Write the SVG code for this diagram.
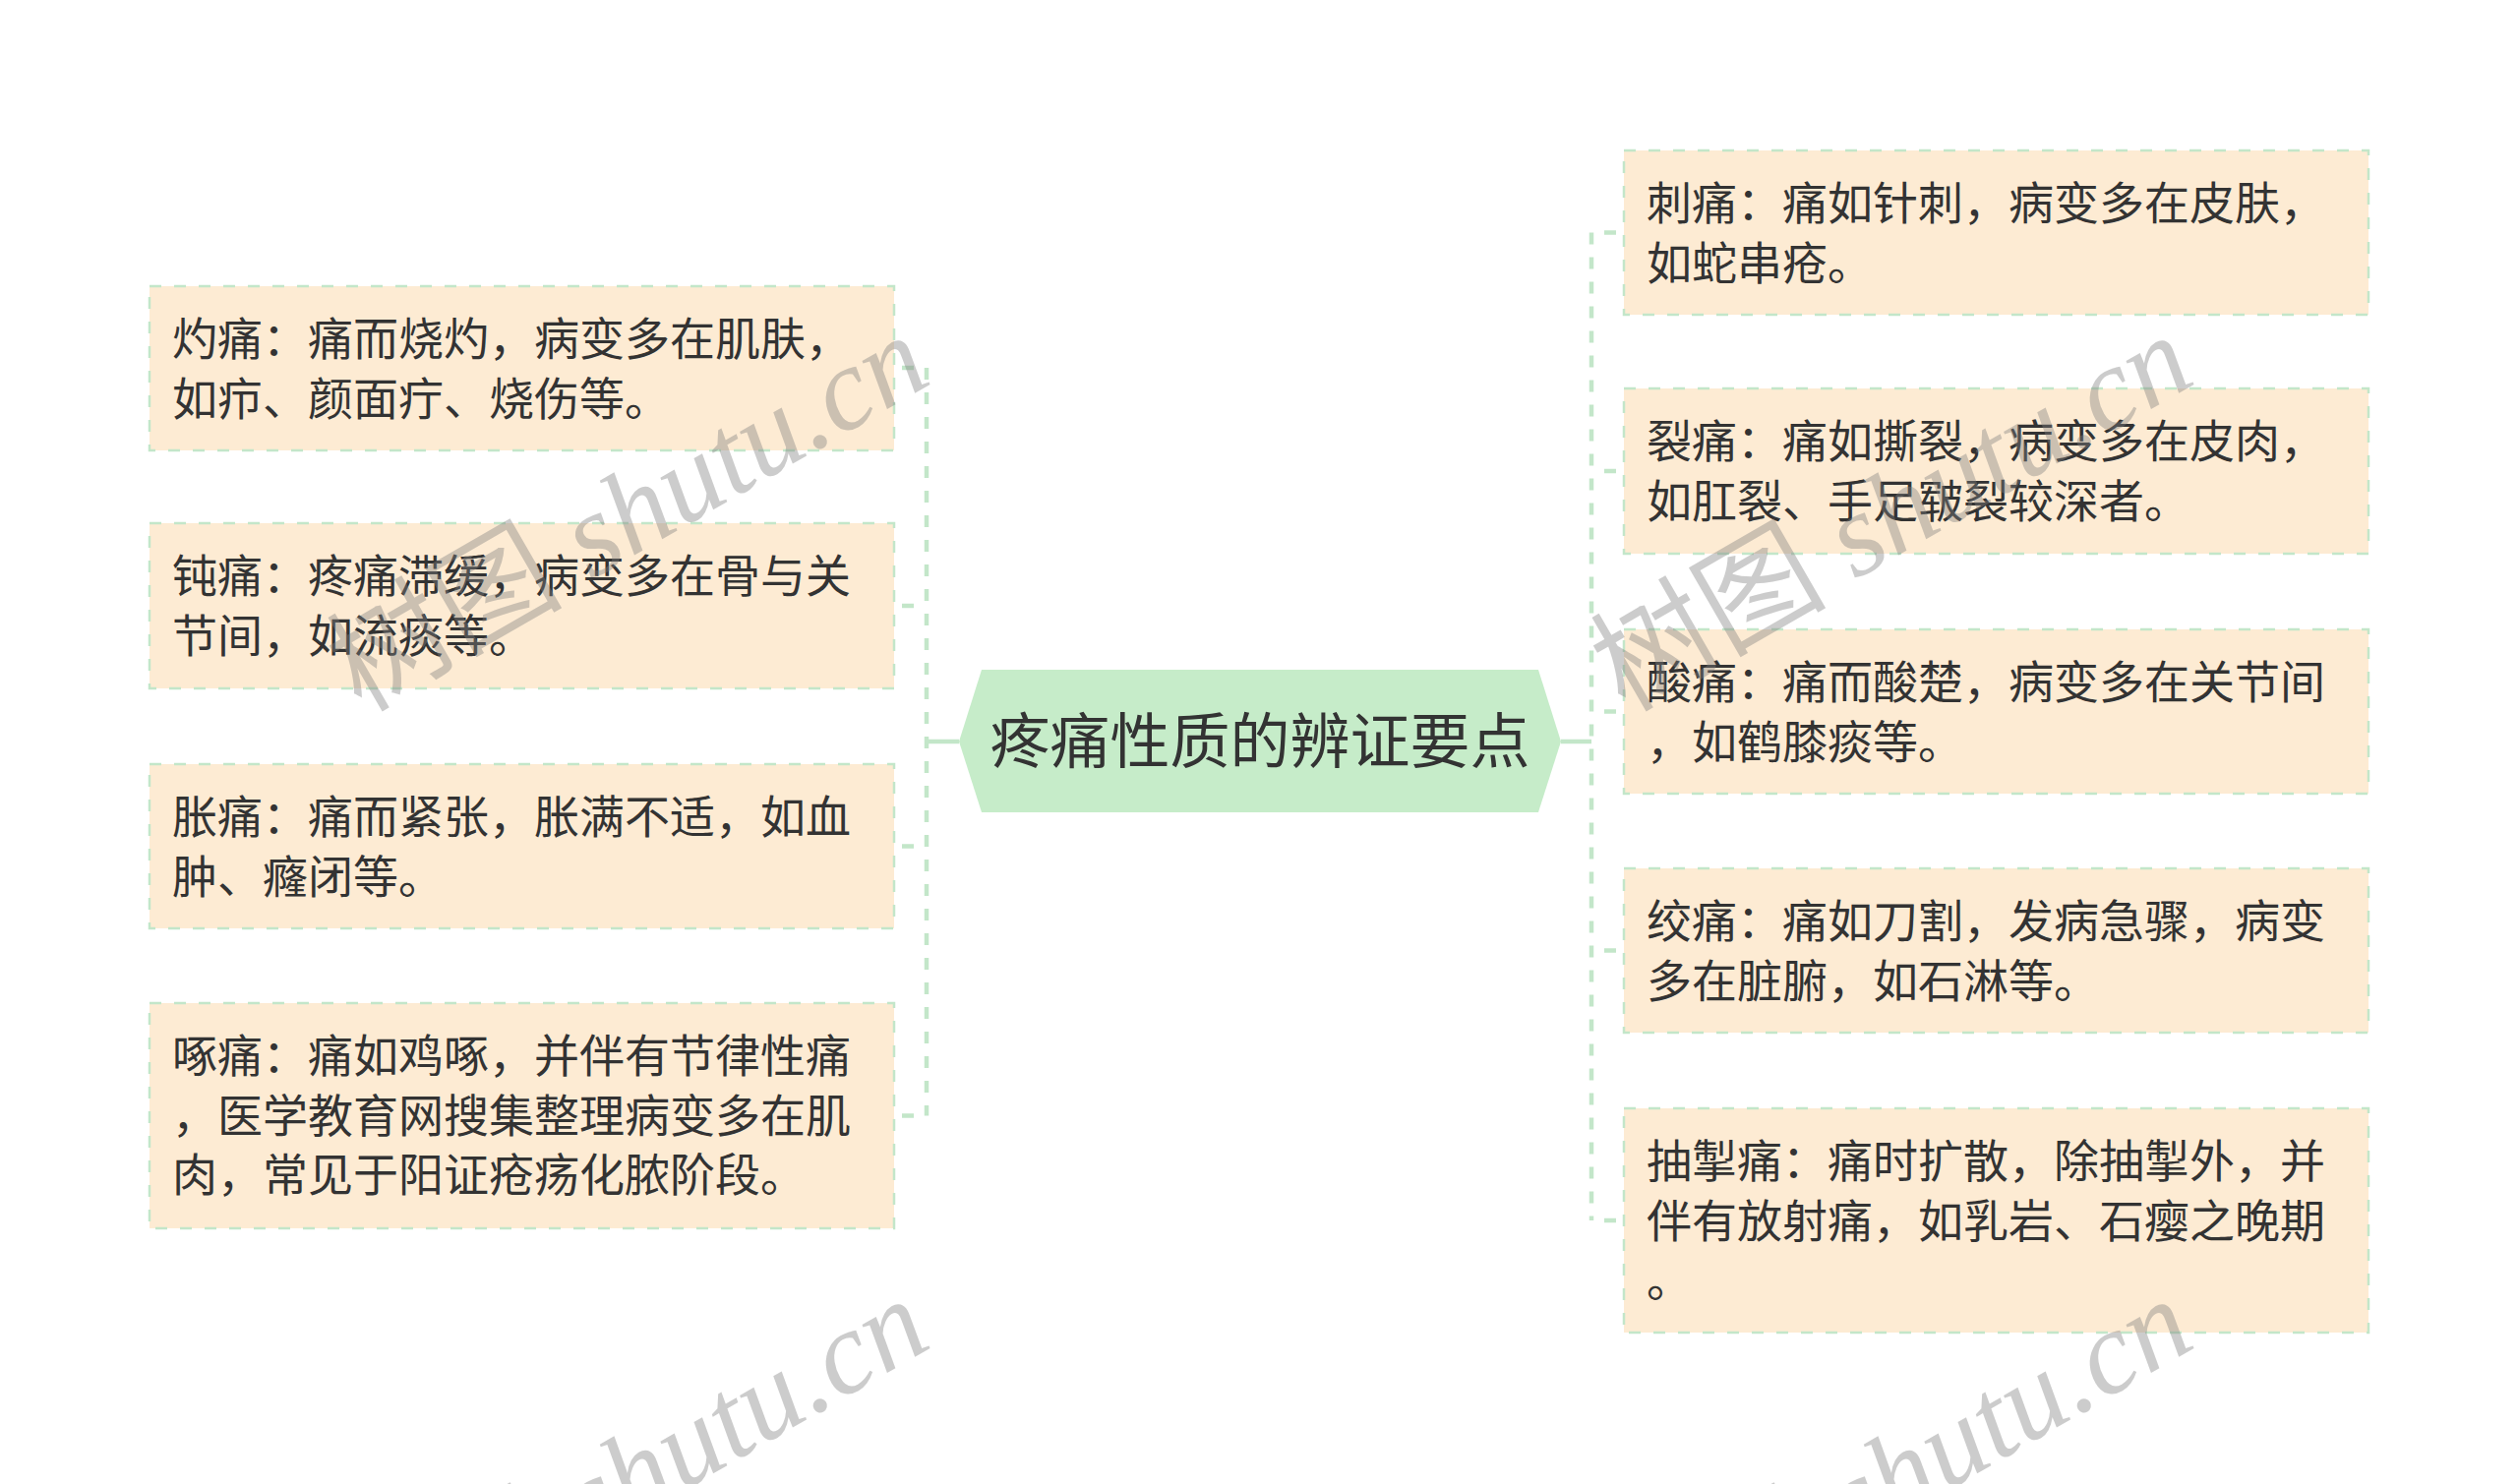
<svg xmlns="http://www.w3.org/2000/svg" width="2560" height="1509" viewBox="0 0 2560 1509">
<style>
.box{fill:#fdebd3;stroke:#c3e6c9;stroke-width:2.5;stroke-dasharray:12 13}
.t{font-family:"Noto Sans CJK SC","Noto Sans",sans-serif;font-size:46px;fill:#333333}
.ct{font-family:"Noto Sans CJK SC","Noto Sans",sans-serif;font-size:61px;fill:#333333;text-anchor:middle}
.dash{fill:none;stroke:#c3e6c9;stroke-width:4.5;stroke-dasharray:12 13}
.stub{fill:none;stroke:#c3e6c9;stroke-width:4.5;stroke-dasharray:12 13;stroke-dashoffset:12}
.solid{fill:none;stroke:#c3e6c9;stroke-width:4.5}
.wm{font-family:"Liberation Serif","Noto Sans CJK SC",serif;font-size:120px;fill:#808080;fill-opacity:0.4}
.wm .cjk{font-family:"Noto Sans CJK SC",sans-serif;font-style:normal}
.wm .lat{font-style:italic}
</style>
<rect width="2560" height="1509" fill="#ffffff"/>
<g id="connectors">
<path class="solid" d="M975 754H942"/>
<path class="dash" d="M942 374V1134.5"/>
<path class="stub" d="M942 374H909"/>
<path class="stub" d="M942 616H909"/>
<path class="stub" d="M942 860.5H909"/>
<path class="stub" d="M942 1134.5H909"/>
<path class="solid" d="M1587 754H1618"/>
<path class="dash" d="M1618 236.5V1241"/>
<path class="stub" d="M1618 236.5H1651"/>
<path class="stub" d="M1618 479H1651"/>
<path class="stub" d="M1618 723.5H1651"/>
<path class="stub" d="M1618 966.5H1651"/>
<path class="stub" d="M1618 1241H1651"/>
</g>
<g id="center">
<polygon points="975,754 998,681 1564,681 1587,754 1564,826 998,826" fill="#c6ecc9"/>
<text class="ct" x="1281" y="776">疼痛性质的辨证要点</text>
</g>
<g id="left1">
<rect class="box" x="152" y="291" width="757" height="167"/>
<text class="t" x="175" y="361">灼痛：痛而烧灼，病变多在肌肤，</text>
<text class="t" x="175" y="421.5">如疖、颜面疔、烧伤等。</text>
</g>
<g id="left2">
<rect class="box" x="152" y="532" width="757" height="168"/>
<text class="t" x="175" y="602">钝痛：疼痛滞缓，病变多在骨与关</text>
<text class="t" x="175" y="662.5">节间，如流痰等。</text>
</g>
<g id="left3">
<rect class="box" x="152" y="777" width="757" height="167"/>
<text class="t" x="175" y="847">胀痛：痛而紧张，胀满不适，如血</text>
<text class="t" x="175" y="907.5">肿、癃闭等。</text>
</g>
<g id="left4">
<rect class="box" x="152" y="1020" width="757" height="229"/>
<text class="t" x="175" y="1090">啄痛：痛如鸡啄，并伴有节律性痛</text>
<text class="t" x="175" y="1150.5">，医学教育网搜集整理病变多在肌</text>
<text class="t" x="175" y="1211">肉，常见于阳证疮疡化脓阶段。</text>
</g>
<g id="right1">
<rect class="box" x="1651" y="153" width="757" height="167"/>
<text class="t" x="1674" y="223">刺痛：痛如针刺，病变多在皮肤，</text>
<text class="t" x="1674" y="283.5">如蛇串疮。</text>
</g>
<g id="right2">
<rect class="box" x="1651" y="395" width="757" height="168"/>
<text class="t" x="1674" y="465">裂痛：痛如撕裂，病变多在皮肉，</text>
<text class="t" x="1674" y="525.5">如肛裂、手足皲裂较深者。</text>
</g>
<g id="right3">
<rect class="box" x="1651" y="640" width="757" height="167"/>
<text class="t" x="1674" y="710">酸痛：痛而酸楚，病变多在关节间</text>
<text class="t" x="1674" y="770.5">，如鹤膝痰等。</text>
</g>
<g id="right4">
<rect class="box" x="1651" y="883" width="757" height="167"/>
<text class="t" x="1674" y="953">绞痛：痛如刀割，发病急骤，病变</text>
<text class="t" x="1674" y="1013.5">多在脏腑，如石淋等。</text>
</g>
<g id="right5">
<rect class="box" x="1651" y="1127" width="757" height="228"/>
<text class="t" x="1674" y="1197">抽掣痛：痛时扩散，除抽掣外，并</text>
<text class="t" x="1674" y="1257.5">伴有放射痛，如乳岩、石瘿之晚期</text>
<text class="t" x="1674" y="1318">。</text>
</g>
<g id="watermarks">
<text class="wm" transform="translate(367,725) rotate(-30)"><tspan class="cjk">树图</tspan><tspan class="lat"> shutu.cn</tspan></text>
<text class="wm" transform="translate(1652,725) rotate(-30)"><tspan class="cjk">树图</tspan><tspan class="lat"> shutu.cn</tspan></text>
<text class="wm" transform="translate(367,1705) rotate(-30)"><tspan class="cjk">树图</tspan><tspan class="lat"> shutu.cn</tspan></text>
<text class="wm" transform="translate(1652,1705) rotate(-30)"><tspan class="cjk">树图</tspan><tspan class="lat"> shutu.cn</tspan></text>
</g>
</svg>
